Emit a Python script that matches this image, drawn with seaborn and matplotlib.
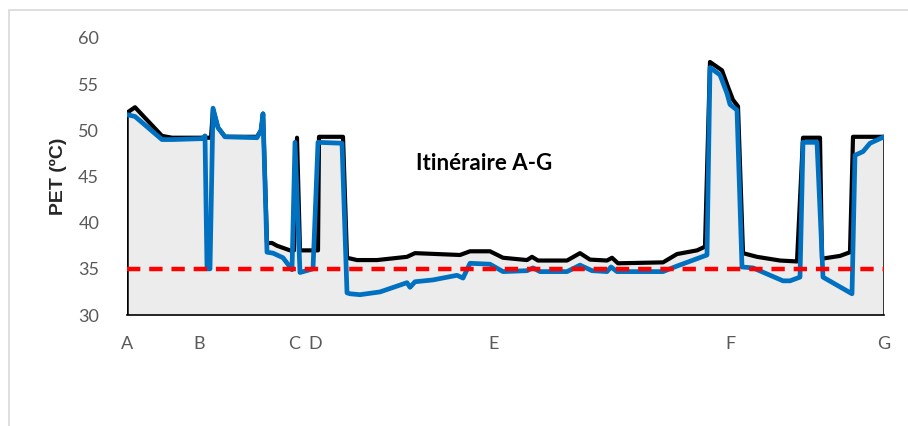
import matplotlib
matplotlib.use("Agg")
import matplotlib.pyplot as plt
import seaborn as sns
import pandas as pd
from matplotlib.patches import Rectangle

# distance along the route (arbitrary units) and PET values
black_x = [0, 8, 35, 45, 80, 84, 86, 91, 98, 130, 134, 136, 140, 145, 150, 163, 167, 170, 173,
           191, 192, 216, 220, 230, 250, 280, 288, 333, 343, 363, 376, 400, 405, 411, 440, 453,
           463, 480, 485, 491, 536, 550, 570, 578, 583, 595, 601, 606, 611, 616, 630, 653, 670,
           676, 693, 695, 713, 723, 726, 757]
black_y = [51.9, 52.5, 49.4, 49.2, 49.2, 49.2, 52.3, 50.3, 49.3, 49.3, 50.0, 51.8, 37.8, 37.8, 37.5,
           37.0, 37.0, 49.2, 37.0, 37.0, 49.3, 49.3, 36.2, 35.95, 35.95, 36.3, 36.7, 36.5, 36.9,
           36.9, 36.2, 35.95, 36.3, 35.9, 35.9, 36.7, 36.0, 35.9, 36.2, 35.6, 35.7, 36.6, 37.0,
           37.4, 57.4, 56.5, 54.7, 53.3, 52.6, 36.7, 36.3, 35.9, 35.8, 49.2, 49.2, 36.1, 36.4,
           36.8, 49.3, 49.3]

blue_x = [0, 8, 35, 45, 75, 78, 80, 83, 86, 91, 98, 130, 134, 136, 140, 146, 156, 163, 165, 168,
          173, 186, 191, 215, 220, 223, 233, 253, 280, 283, 288, 306, 330, 336, 343, 363, 376,
          400, 406, 413, 440, 453, 465, 480, 484, 490, 536, 550, 580, 583, 593, 600, 603, 610,
          615, 626, 656, 663, 673, 676, 690, 696, 725, 728, 736, 743, 757]
blue_y = [51.7, 51.5, 49.0, 49.0, 49.1, 49.4, 35.0, 35.0, 52.4, 50.3, 49.3, 49.2, 50.0, 51.8, 36.8,
          36.7, 36.2, 35.2, 34.9, 48.7, 34.6, 35.0, 48.7, 48.6, 32.4, 32.3, 32.2, 32.5, 33.5,
          33.0, 33.6, 33.8, 34.3, 34.0, 35.6, 35.5, 34.7, 34.8, 35.1, 34.7, 34.7, 35.4, 34.8,
          34.7, 35.2, 34.7, 34.7, 35.3, 36.5, 56.8, 56.0, 54.0, 52.8, 52.2, 35.2, 35.1, 33.7,
          33.7, 34.1, 48.7, 48.7, 34.1, 32.3, 47.3, 47.7, 48.6, 49.3]

threshold = 35
stops = ["A", "B", "C", "D", "E", "F", "G"]
stop_x = [0, 72, 167, 188, 367, 603, 757]

black = pd.DataFrame({"dist": black_x, "pet": black_y})
blue = pd.DataFrame({"dist": blue_x, "pet": blue_y})

sns.set_style("white")
plt.rcParams["font.family"] = ["Lato", "DejaVu Sans"]

fig = plt.figure(figsize=(9.08, 4.26), dpi=100)
fig.patches.append(Rectangle((9 / 908, -0.1), 1.2, 1 - 10 / 426 + 0.1, transform=fig.transFigure,
                             fill=False, edgecolor="#d9d9d9", linewidth=1.2, zorder=0))
ax = fig.add_axes([127 / 908, 1 - 315 / 426, 757 / 908, 277 / 426])

ax.fill_between(black["dist"], 30, black["pet"], color="#ececec", edgecolor="none", zorder=1)
ax.vlines([black_x[0], black_x[-1]], 30, [black_y[0], black_y[-1]], color="black", lw=1.8, zorder=2)
sns.lineplot(data=black, x="dist", y="pet", color="black", lw=3.0, sort=False, ax=ax, zorder=3,
             solid_joinstyle="round")
sns.lineplot(data=blue, x="dist", y="pet", color="#0070c0", lw=3.4, sort=False, ax=ax, zorder=4,
             solid_joinstyle="round")
ax.plot([black_x[0], black_x[-1]], [threshold, threshold], color="#ff0000", lw=3.2,
        dashes=(3, 2), zorder=5)

ax.set_xlim(0, 757)
ax.set_ylim(30, 60)
ax.set_yticks([30, 35, 40, 45, 50, 55, 60])
ax.set_xticks(stop_x)
ax.set_xticklabels(stops)
ax.tick_params(axis="both", length=0, labelsize=13, labelcolor="#595959")
ax.tick_params(axis="x", pad=15)
ax.tick_params(axis="y", pad=20)
for s in ["top", "right", "left"]:
    ax.spines[s].set_visible(False)
ax.spines["bottom"].set_color("black")
ax.spines["bottom"].set_linewidth(1.2)

ax.set_xlabel("")
ax.set_ylabel("PET (ºC)", fontsize=14, fontweight="bold", family=["Liberation Sans", "DejaVu Sans"],
              labelpad=8)
ax.text(357, 46.4, "Itinéraire A-G", fontsize=16, fontweight="bold", ha="center", va="center",
        color="black")

fig.savefig("out.png", dpi=100)
plt.close(fig)
